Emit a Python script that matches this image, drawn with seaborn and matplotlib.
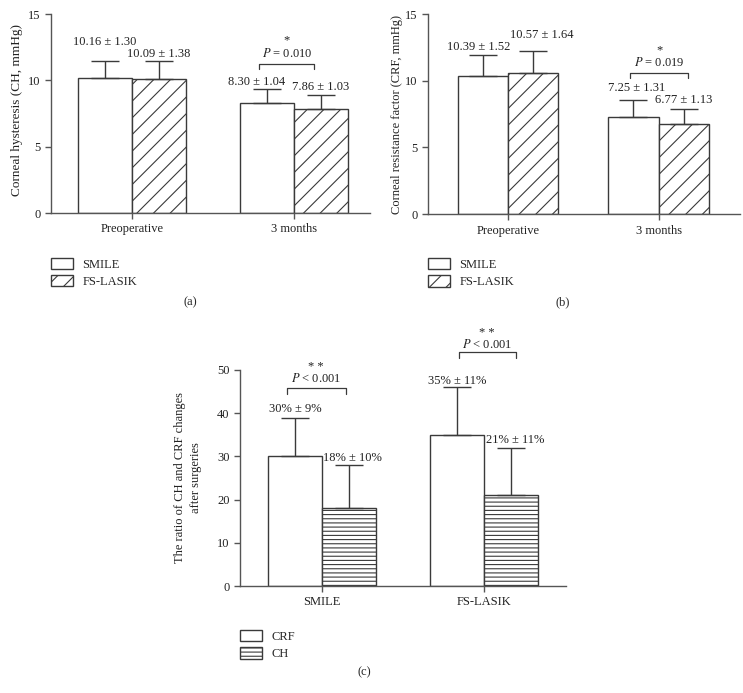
import pandas as pd
import matplotlib.pyplot as plt
import matplotlib.patches as mpatches
import seaborn as sns

# ---- data ----
timepoints = ["Preoperative", "3 months"]
groups = ["SMILE", "FS-LASIK"]

ch_mean = [10.16, 10.09, 8.30, 7.86]   # SMILE/FS-LASIK per timepoint
ch_sd = [1.30, 1.38, 1.04, 1.03]
crf_mean = [10.39, 10.57, 7.25, 6.77]
crf_sd = [1.52, 1.64, 1.31, 1.13]

surgeries = ["SMILE", "FS-LASIK"]
measures = ["CRF", "CH"]
ratio_mean = [30, 18, 35, 21]           # CRF/CH per surgery
ratio_sd = [9, 10, 11, 11]

p_a = "0.010"
p_b = "0.019"
p_c = ["< 0.001", "< 0.001"]

sns.set_style("white")
plt.rcParams["font.family"] = ["Liberation Serif", "DejaVu Serif"]
plt.rcParams["mathtext.fontset"] = "stix"
plt.rcParams["hatch.linewidth"] = 0.8
plt.rcParams["hatch.color"] = "#444444"

EDGE = "#3a3a3a"
AX = "#555555"
FS = 9

fig = plt.figure(figsize=(7.43, 6.93), dpi=100)
ax_a = fig.add_axes([0.0686, 0.6926, 0.429, 0.287])
ax_b = fig.add_axes([0.576, 0.691, 0.42, 0.2886])
ax_c = fig.add_axes([0.323, 0.1544, 0.4388, 0.3117])


def draw_panel(ax, cats, hues, means, sds, hatch, xlim, ylim, yticks):
    df = pd.DataFrame({
        "cat": [c for c in cats for _ in hues],
        "hue": [h for _ in cats for h in hues],
        "val": means,
    })
    sns.barplot(data=df, x="cat", y="val", hue="hue", order=cats, hue_order=hues,
                palette=["white", "white"], edgecolor=EDGE, linewidth=1,
                errorbar=None, width=0.667, gap=0, ax=ax, legend=False)
    bars = list(ax.containers)
    for p in bars[1]:
        p.set_hatch(hatch)
    # upper error bars from bar geometry
    tops = {}
    for hi, cont in enumerate(bars):
        for ci, p in enumerate(cont):
            x = p.get_x() + p.get_width() / 2
            y = p.get_height()
            e = sds[ci * len(hues) + hi]
            ax.errorbar([x], [y], yerr=[[0], [e]], fmt="none", ecolor=EDGE,
                        elinewidth=1, capsize=10, capthick=1, clip_on=False)
            tops[(ci, hi)] = (x, y + e)
    ax.set_xlim(*xlim)
    ax.set_ylim(*ylim)
    ax.set_yticks(yticks)
    ax.set_xlabel("")
    sns.despine(ax=ax)
    for s in ["left", "bottom"]:
        ax.spines[s].set_color(AX)
        ax.spines[s].set_linewidth(1)
    ax.tick_params(axis="both", direction="out", length=4, width=1, color=AX,
                   labelsize=FS, labelcolor="#222222", left=True, bottom=True)
    return tops


def add_labels(ax, tops, fmt, means, sds, offsets, nh=2):
    for (ci, hi), (x, ytop) in tops.items():
        i = ci * nh + hi
        dx, dy = offsets[i]
        ax.text(x + dx, ytop + dy, fmt(means[i], sds[i]), ha="center", va="center",
                fontsize=FS, color="#222222", clip_on=False)


def bracket(ax, x0, x1, ytop, yend, ptxt, ytext, star, ystar):
    ax.plot([x0, x0, x1, x1], [yend, ytop, ytop, yend], color=EDGE, lw=0.9,
            clip_on=False)
    xm = (x0 + x1) / 2
    ax.text(xm, ytext, "$P$ " + ptxt, ha="center", va="center", fontsize=FS,
            color="#222222", clip_on=False)
    ax.text(xm, ystar, star, ha="center", va="center", fontsize=FS,
            color="#222222", clip_on=False)


def legend(ax, labels, hatch, y):
    handles = [mpatches.Patch(facecolor="white", edgecolor=EDGE, lw=1),
               mpatches.Patch(facecolor="white", edgecolor=EDGE, lw=1, hatch=hatch)]
    ax.legend(handles, labels, loc="upper left", bbox_to_anchor=(0, y),
              frameon=False, fontsize=FS, handlelength=1.8, handleheight=1.0,
              handletextpad=0.7, labelspacing=0.35, borderpad=0, borderaxespad=0)


mmhg = lambda m, s: f"{m:.2f} ± {s:.2f}"
pct = lambda m, s: f"{m:.0f}% ± {s:.0f}%"

# (a) corneal hysteresis
tops_a = draw_panel(ax_a, timepoints, groups, ch_mean, ch_sd, "//",
                    (-0.5, 1.47), (0, 15), [0, 5, 10, 15])
add_labels(ax_a, tops_a, mmhg, ch_mean, ch_sd,
           [(0, 1.45), (0, 0.55), (-0.06, 0.54), (0, 0.6)])
xa0, xa1 = tops_a[(1, 0)][0], tops_a[(1, 1)][0]
bracket(ax_a, xa0 - 0.045, xa1 - 0.04, 11.25, 10.85, "= " + p_a, 12.05, "*", 13.0)
ax_a.set_ylabel("Corneal hysteresis (CH, mmHg)", fontsize=9.5, color="#222222")
ax_a.yaxis.set_label_coords(-0.088, 0.52)
legend(ax_a, groups, "//", -0.226)

# (b) corneal resistance factor
tops_b = draw_panel(ax_b, timepoints, groups, crf_mean, crf_sd, "//",
                    (-0.53, 1.54), (0, 15), [0, 5, 10, 15])
add_labels(ax_b, tops_b, mmhg, crf_mean, crf_sd,
           [(-0.03, 0.6), (0.06, 1.2), (0.02, 0.9), (0, 0.65)])
xb0, xb1 = tops_b[(1, 0)][0], tops_b[(1, 1)][0]
bracket(ax_b, xb0 - 0.02, xb1 + 0.03, 10.6, 10.2, "= " + p_b, 11.4, "*", 12.3)
ax_b.set_ylabel("Corneal resistance factor (CRF, mmHg)", fontsize=FS, color="#222222")
ax_b.yaxis.set_label_coords(-0.08, 0.5)
legend(ax_b, groups, "//", -0.22)

# (c) ratio of changes
tops_c = draw_panel(ax_c, surgeries, measures, ratio_mean, ratio_sd, "----",
                    (-0.506, 1.506), (0, 50), [0, 10, 20, 30, 40, 50])
add_labels(ax_c, tops_c, pct, ratio_mean, ratio_sd,
           [(0, 2.0), (0.02, 1.6), (0, 1.5), (0.025, 1.8)])
c00, c01 = tops_c[(0, 0)][0], tops_c[(0, 1)][0]
c10, c11 = tops_c[(1, 0)][0], tops_c[(1, 1)][0]
bracket(ax_c, c00 - 0.05, c01 - 0.02, 45.8, 44.4, p_c[0], 48.0, "* *", 50.6)
bracket(ax_c, c10 + 0.01, c11 + 0.03, 54.2, 52.8, p_c[1], 56.0, "* *", 58.6)
ax_c.set_ylabel("The ratio of CH and CRF changes\nafter surgeries", fontsize=FS,
                color="#222222", linespacing=1.45)
ax_c.yaxis.set_label_coords(-0.116, 0.5)
legend(ax_c, measures, "----", -0.204)

fig.text(190 / 743, 1 - 302 / 693, "(a)", ha="center", va="center", fontsize=FS)
fig.text(563 / 743, 1 - 302 / 693, "(b)", ha="center", va="center", fontsize=FS)
fig.text(364 / 743, 1 - 672 / 693, "(c)", ha="center", va="center", fontsize=FS)

fig.savefig("out.png", dpi=100, facecolor="white")
